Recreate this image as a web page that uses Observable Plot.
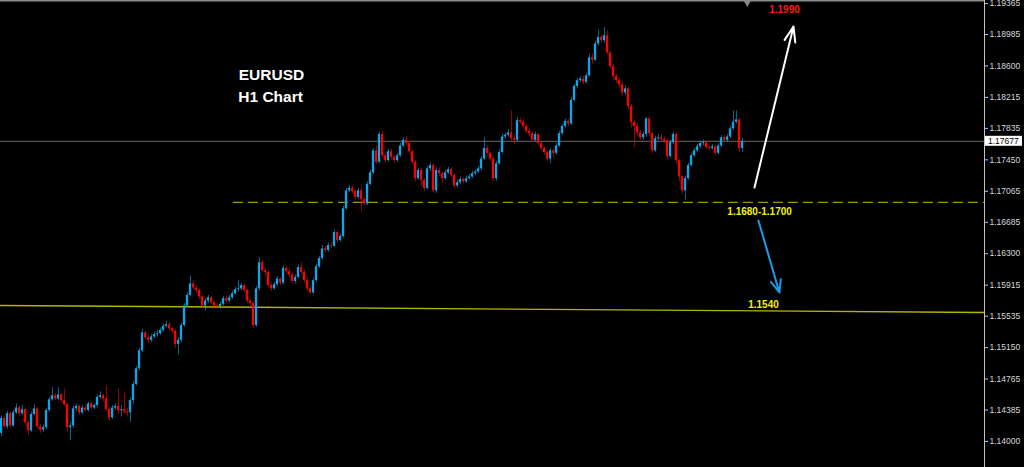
<!DOCTYPE html>
<html><head><meta charset="utf-8">
<script src="https://cdn.jsdelivr.net/npm/d3@7"></script>
<script src="https://cdn.jsdelivr.net/npm/@observablehq/plot@0.6"></script>
<style>html,body{margin:0;padding:0;background:#000;overflow:hidden}</style>
</head><body><div id="chart"></div>
<script>
// EURUSD H1 candles (index, open, high, low, close)
const opens = [1.1410,1.1428,1.1418,1.1434,1.1419,1.1435,1.1441,1.1434,1.1439,1.1423,
1.1413,1.1433,1.1440,1.1418,1.1414,1.1417,1.1438,1.1451,1.1456,1.1452,
1.1457,1.1450,1.1445,1.1417,1.1419,1.1440,1.1443,1.1435,1.1441,1.1438,
1.1446,1.1441,1.1444,1.1454,1.1456,1.1452,1.1439,1.1429,1.1441,1.1443,
1.1438,1.1439,1.1436,1.1435,1.1450,1.1470,1.1489,1.1511,1.1533,1.1527,
1.1524,1.1528,1.1531,1.1532,1.1536,1.1541,1.1543,1.1538,1.1535,1.1519,
1.1524,1.1542,1.1566,1.1579,1.1593,1.1588,1.1585,1.1577,1.1566,1.1572,
1.1576,1.1570,1.1566,1.1565,1.1568,1.1575,1.1572,1.1576,1.1581,1.1586,
1.1587,1.1591,1.1585,1.1572,1.1569,1.1542,1.1587,1.1619,1.1609,1.1607,
1.1591,1.1587,1.1592,1.1599,1.1594,1.1612,1.1608,1.1604,1.1596,1.1601,
1.1613,1.1607,1.1597,1.1587,1.1582,1.1597,1.1614,1.1624,1.1636,1.1634,
1.1640,1.1639,1.1656,1.1646,1.1651,1.1685,1.1707,1.1710,1.1706,1.1699,
1.1707,1.1696,1.1691,1.1715,1.1729,1.1756,1.1742,1.1776,1.1750,1.1744,
1.1755,1.1748,1.1744,1.1750,1.1762,1.1769,1.1765,1.1755,1.1742,1.1722,
1.1732,1.1720,1.1710,1.1734,1.1738,1.1707,1.1732,1.1728,1.1722,1.1729,
1.1733,1.1726,1.1713,1.1717,1.1721,1.1718,1.1722,1.1724,1.1728,1.1730,
1.1734,1.1746,1.1759,1.1753,1.1746,1.1722,1.1740,1.1754,1.1773,1.1775,
1.1778,1.1771,1.1769,1.1793,1.1791,1.1786,1.1780,1.1777,1.1769,1.1776,
1.1765,1.1759,1.1754,1.1746,1.1756,1.1753,1.1762,1.1777,1.1786,1.1792,
1.1789,1.1818,1.1835,1.1842,1.1844,1.1840,1.1848,1.1870,1.1867,1.1887,
1.1895,1.1891,1.1897,1.1876,1.1859,1.1847,1.1842,1.1837,1.1827,1.1832,
1.1810,1.1791,1.1786,1.1778,1.1772,1.1776,1.1795,1.1777,1.1756,1.1771,
1.1772,1.1770,1.1768,1.1749,1.1766,1.1776,1.1744,1.1724,1.1707,1.1722,
1.1738,1.1750,1.1756,1.1761,1.1765,1.1766,1.1760,1.1759,1.1761,1.1753,
1.1762,1.1772,1.1769,1.1773,1.1783,1.1791,1.1794,1.1759];

const highs = [1.1431,1.1431,1.1437,1.1436,1.1438,1.1446,1.1443,1.1444,1.1441,1.1425,
1.1436,1.1445,1.1442,1.1421,1.1420,1.1440,1.1454,1.1466,1.1459,1.1466,
1.1459,1.1464,1.1447,1.1423,1.1443,1.1446,1.1445,1.1444,1.1444,1.1448,
1.1448,1.1446,1.1457,1.1461,1.1458,1.1468,1.1441,1.1444,1.1446,1.1465,
1.1444,1.1459,1.1440,1.1453,1.1473,1.1492,1.1514,1.1537,1.1535,1.1530,
1.1531,1.1534,1.1536,1.1539,1.1544,1.1547,1.1546,1.1540,1.1537,1.1527,
1.1545,1.1569,1.1582,1.1603,1.1596,1.1591,1.1587,1.1579,1.1575,1.1579,
1.1578,1.1572,1.1569,1.1571,1.1578,1.1578,1.1579,1.1584,1.1589,1.1597,
1.1594,1.1593,1.1587,1.1575,1.1571,1.1590,1.1625,1.1622,1.1612,1.1609,
1.1594,1.1595,1.1602,1.1601,1.1615,1.1614,1.1611,1.1606,1.1604,1.1616,
1.1619,1.1610,1.1600,1.1590,1.1600,1.1617,1.1627,1.1640,1.1639,1.1643,
1.1644,1.1659,1.1658,1.1654,1.1688,1.1710,1.1713,1.1713,1.1708,1.1710,
1.1712,1.1699,1.1718,1.1732,1.1759,1.1762,1.1779,1.1780,1.1753,1.1758,
1.1758,1.1751,1.1753,1.1765,1.1772,1.1774,1.1768,1.1757,1.1744,1.1735,
1.1735,1.1722,1.1737,1.1741,1.1740,1.1735,1.1735,1.1730,1.1732,1.1736,
1.1735,1.1728,1.1720,1.1724,1.1723,1.1725,1.1727,1.1731,1.1733,1.1737,
1.1749,1.1772,1.1762,1.1755,1.1748,1.1743,1.1757,1.1776,1.1778,1.1782,
1.1805,1.1776,1.1797,1.1796,1.1794,1.1788,1.1783,1.1779,1.1779,1.1778,
1.1767,1.1761,1.1756,1.1759,1.1758,1.1765,1.1780,1.1789,1.1795,1.1795,
1.1821,1.1838,1.1845,1.1847,1.1847,1.1851,1.1874,1.1874,1.1890,1.1904,
1.1898,1.1907,1.1903,1.1879,1.1862,1.1850,1.1845,1.1840,1.1836,1.1834,
1.1813,1.1794,1.1789,1.1781,1.1779,1.1797,1.1797,1.1779,1.1774,1.1776,
1.1776,1.1773,1.1770,1.1769,1.1779,1.1778,1.1746,1.1726,1.1725,1.1741,
1.1753,1.1759,1.1764,1.1768,1.1769,1.1769,1.1763,1.1764,1.1763,1.1765,
1.1775,1.1775,1.1776,1.1786,1.1805,1.1805,1.1796,1.1771];

const lows = [1.1406,1.1416,1.1415,1.1416,1.1417,1.1433,1.1431,1.1432,1.1420,1.1407,
1.1411,1.1431,1.1415,1.1410,1.1411,1.1414,1.1436,1.1449,1.1450,1.1450,
1.1447,1.1442,1.1412,1.1401,1.1416,1.1437,1.1432,1.1433,1.1436,1.1436,
1.1439,1.1439,1.1442,1.1452,1.1449,1.1436,1.1425,1.1427,1.1439,1.1433,
1.1430,1.1433,1.1430,1.1423,1.1445,1.1468,1.1487,1.1509,1.1524,1.1520,
1.1521,1.1526,1.1528,1.1530,1.1534,1.1539,1.1535,1.1532,1.1514,1.1506,
1.1521,1.1540,1.1564,1.1577,1.1585,1.1582,1.1574,1.1563,1.1560,1.1569,
1.1567,1.1563,1.1562,1.1562,1.1566,1.1569,1.1570,1.1574,1.1579,1.1583,
1.1585,1.1582,1.1569,1.1565,1.1539,1.1540,1.1585,1.1606,1.1603,1.1588,
1.1584,1.1585,1.1590,1.1591,1.1592,1.1605,1.1601,1.1593,1.1593,1.1599,
1.1604,1.1594,1.1584,1.1580,1.1580,1.1595,1.1612,1.1622,1.1631,1.1632,
1.1636,1.1637,1.1643,1.1644,1.1649,1.1683,1.1705,1.1703,1.1696,1.1697,
1.1681,1.1688,1.1689,1.1713,1.1727,1.1739,1.1740,1.1747,1.1741,1.1742,
1.1745,1.1741,1.1742,1.1748,1.1760,1.1762,1.1752,1.1739,1.1718,1.1720,
1.1712,1.1706,1.1708,1.1731,1.1704,1.1704,1.1725,1.1716,1.1720,1.1727,
1.1723,1.1710,1.1710,1.1715,1.1716,1.1716,1.1720,1.1722,1.1726,1.1728,
1.1732,1.1744,1.1750,1.1743,1.1719,1.1719,1.1738,1.1752,1.1770,1.1773,
1.1768,1.1764,1.1767,1.1788,1.1783,1.1777,1.1774,1.1766,1.1767,1.1762,
1.1756,1.1751,1.1743,1.1740,1.1746,1.1751,1.1760,1.1775,1.1784,1.1786,
1.1787,1.1816,1.1833,1.1840,1.1837,1.1838,1.1846,1.1862,1.1865,1.1885,
1.1888,1.1888,1.1873,1.1856,1.1843,1.1838,1.1833,1.1823,1.1824,1.1806,
1.1784,1.1760,1.1774,1.1769,1.1769,1.1773,1.1774,1.1752,1.1754,1.1768,
1.1767,1.1765,1.1745,1.1747,1.1764,1.1740,1.1718,1.1703,1.1695,1.1720,
1.1736,1.1748,1.1754,1.1759,1.1762,1.1758,1.1756,1.1757,1.1750,1.1751,
1.1760,1.1766,1.1767,1.1771,1.1781,1.1789,1.1754,1.1754];

const closes = [1.1428,1.1418,1.1434,1.1419,1.1435,1.1441,1.1434,1.1439,1.1423,1.1413,
1.1433,1.1440,1.1418,1.1414,1.1417,1.1438,1.1451,1.1456,1.1452,1.1457,
1.1450,1.1445,1.1417,1.1419,1.1440,1.1443,1.1435,1.1441,1.1438,1.1446,
1.1441,1.1444,1.1454,1.1456,1.1452,1.1439,1.1429,1.1441,1.1443,1.1438,
1.1439,1.1436,1.1435,1.1450,1.1470,1.1489,1.1511,1.1533,1.1527,1.1524,
1.1528,1.1531,1.1532,1.1536,1.1541,1.1543,1.1538,1.1535,1.1519,1.1524,
1.1542,1.1566,1.1579,1.1593,1.1588,1.1585,1.1577,1.1566,1.1572,1.1576,
1.1570,1.1566,1.1565,1.1568,1.1575,1.1572,1.1576,1.1581,1.1586,1.1587,
1.1591,1.1585,1.1572,1.1569,1.1542,1.1587,1.1619,1.1609,1.1607,1.1591,
1.1587,1.1592,1.1599,1.1594,1.1612,1.1608,1.1604,1.1596,1.1601,1.1613,
1.1607,1.1597,1.1587,1.1582,1.1597,1.1614,1.1624,1.1636,1.1634,1.1640,
1.1639,1.1656,1.1646,1.1651,1.1685,1.1707,1.1710,1.1706,1.1699,1.1707,
1.1696,1.1691,1.1715,1.1729,1.1756,1.1742,1.1776,1.1750,1.1744,1.1755,
1.1748,1.1744,1.1750,1.1762,1.1769,1.1765,1.1755,1.1742,1.1722,1.1732,
1.1720,1.1710,1.1734,1.1738,1.1707,1.1732,1.1728,1.1722,1.1729,1.1733,
1.1726,1.1713,1.1717,1.1721,1.1718,1.1722,1.1724,1.1728,1.1730,1.1734,
1.1746,1.1759,1.1753,1.1746,1.1722,1.1740,1.1754,1.1773,1.1775,1.1778,
1.1771,1.1769,1.1793,1.1791,1.1786,1.1780,1.1777,1.1769,1.1776,1.1765,
1.1759,1.1754,1.1746,1.1756,1.1753,1.1762,1.1777,1.1786,1.1792,1.1789,
1.1818,1.1835,1.1842,1.1844,1.1840,1.1848,1.1870,1.1867,1.1887,1.1895,
1.1891,1.1897,1.1876,1.1859,1.1847,1.1842,1.1837,1.1827,1.1832,1.1810,
1.1791,1.1786,1.1778,1.1772,1.1776,1.1795,1.1777,1.1756,1.1771,1.1772,
1.1770,1.1768,1.1749,1.1766,1.1776,1.1744,1.1724,1.1707,1.1722,1.1738,
1.1750,1.1756,1.1761,1.1765,1.1766,1.1760,1.1759,1.1761,1.1753,1.1762,
1.1772,1.1769,1.1773,1.1783,1.1791,1.1794,1.1759,1.17677];

// right price-axis tick labels
const priceTicks = [1.19365,1.18985,1.18600,1.18215,1.17835,1.17450,1.17065,1.16685,
  1.16300,1.15915,1.15535,1.15150,1.14765,1.14385,1.14000];

// view window (bar index, price)
const xDomain = [-0.3333, 327.6667];
const yDomain = [1.13681, 1.19402];

// annotation levels
const supportLevel = 1.1693, supportFromBar = 77.3;
const trendLine = [{i: -0.3333, p: 1.15666}, {i: 327.6667, p: 1.15580}];
const upArrow = [{i1: 251, p1: 1.17111, i2: 264, p2: 1.19083}];
const downArrow = [{i1: 252.3, p1: 1.16707, i2: 259.3, p2: 1.15825}];
const labels = [
  {i: 261, p: 1.19292, t: "1.1990", c: "#ff1a1a", s: 10},
  {i: 252.7, p: 1.16817, t: "1.1680-1.1700", c: "#f2f200", s: 10},
  {i: 254, p: 1.15678, t: "1.1540", c: "#f2f200", s: 10},
  {i: 90, p: 1.18483, t: "EURUSD", c: "#ffffff", s: 15.5},
  {i: 89.7, p: 1.18214, t: "H1 Chart", c: "#ffffff", s: 15.5}
];
const shiftMarker = [{i: 248.6, p: 1.19372}];

const candles = closes.map((c, i) => ({i, open: opens[i], high: highs[i], low: lows[i], close: c}));
const UP = "#0aa9ec", DOWN = "#ff0000";
const col = d => d.close >= d.open ? UP : DOWN;
const last = closes[closes.length - 1];

const chart = Plot.plot({
  width: 1024, height: 467,
  marginLeft: 0, marginRight: 40, marginTop: 0, marginBottom: 0,
  style: {background: "#000", color: "#d6d6d6", fontFamily: "'Liberation Sans', Arial, sans-serif", overflow: "visible"},
  x: {domain: xDomain, axis: null},
  y: {domain: yDomain, axis: null},
  marks: [
    Plot.ruleY([yDomain[1]], {stroke: "#8a8a8a", strokeWidth: 2}),
    Plot.ruleY([last], {stroke: "#6a6a6a", strokeWidth: 1}),
    Plot.ruleY([supportLevel], {x1: supportFromBar, x2: xDomain[1], stroke: "#c2c200", strokeWidth: 1, strokeDasharray: "10,5"}),
    Plot.line(trendLine, {x: "i", y: "p", stroke: "#b4b400", strokeWidth: 1.4}),
    Plot.ruleX(candles, {x: "i", y1: "low", y2: "high", stroke: col, strokeOpacity: 0.6, strokeWidth: 1}),
    Plot.rect(candles, {x1: d => d.i - 0.38, x2: d => d.i + 0.38, y1: "open", y2: "close", fill: col}),
    Plot.arrow(upArrow, {x1: "i1", y1: "p1", x2: "i2", y2: "p2", stroke: "#ffffff", strokeWidth: 2, headLength: 12, headAngle: 40}),
    Plot.arrow(downArrow, {x1: "i1", y1: "p1", x2: "i2", y2: "p2", stroke: "#1e9be6", strokeWidth: 2, headLength: 10, headAngle: 45}),
    Plot.text(labels, {x: "i", y: "p", text: "t", fill: "c", fontSize: "s", fontWeight: "bold"}),
    Plot.dot(shiftMarker, {x: "i", y: "p", symbol: "triangle", rotate: 180, r: 2.6, fill: "#8a8a8a", stroke: null}),
    Plot.ruleX([xDomain[1]], {stroke: "#c4c4c4", strokeWidth: 1}),
    Plot.axisY(priceTicks, {anchor: "right", tickSize: 3, tickPadding: 2, stroke: "#c4c4c4",
      tickFormat: d => d.toFixed(5), fontSize: 8.5, fill: "#d6d6d6", textAnchor: "start"})
  ]
});
document.getElementById("chart").appendChild(chart);

// current-price tag on the price scale
const sx = chart.scale("x"), sy = chart.scale("y");
const svg = d3.select(chart);
const tx = sx.apply(xDomain[1]) + 1, ty = sy.apply(last);
svg.append("rect").attr("x", tx).attr("y", ty - 5).attr("width", 37).attr("height", 10).attr("fill", "#ffffff");
svg.append("text").attr("x", tx + 3).attr("y", ty).attr("dy", "0.35em").attr("fill", "#000")
  .attr("text-anchor", "start").attr("font-size", 8.5)
  .attr("font-family", "'Liberation Sans', Arial, sans-serif").text(last.toFixed(5));
</script>
</body></html>
